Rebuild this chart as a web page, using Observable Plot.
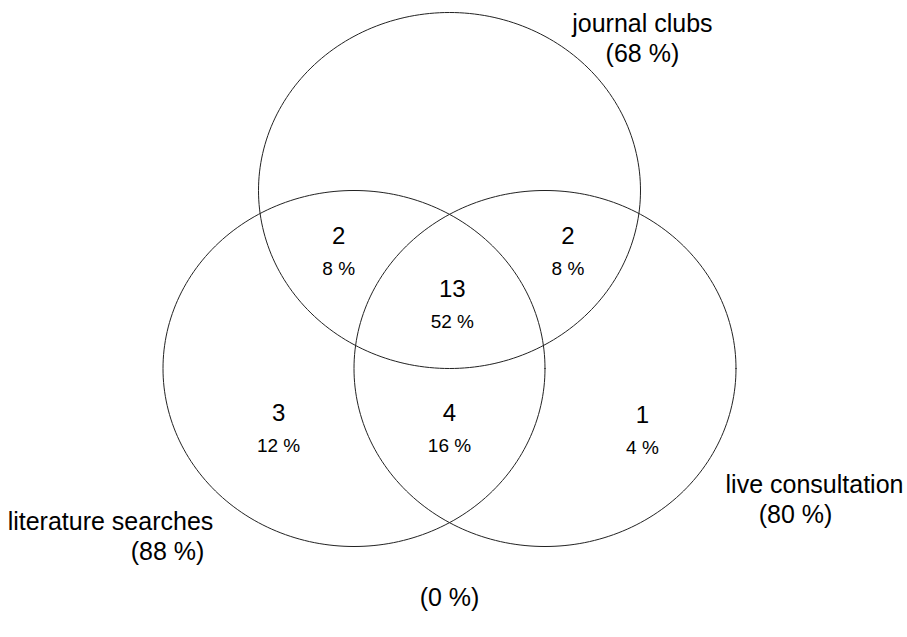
<!DOCTYPE html>
<html>
<head>
<meta charset="utf-8">
<script src="https://cdn.jsdelivr.net/npm/d3@7"></script>
<script src="https://cdn.jsdelivr.net/npm/@observablehq/plot@0.6"></script>
<style>
  html, body { margin: 0; padding: 0; background: #fff; }
  #chart svg { display: block; }
</style>
</head>
<body>
<div id="chart"></div>
<script>
// ---- data ----
const setNames = ["journal clubs", "live consultation", "literature searches"];
const setPercents = [68, 80, 88];
const regionNames = ["JC∩LS", "JC∩LC", "JC∩LC∩LS", "LS", "LS∩LC", "LC"];
const regionCounts = [2, 2, 13, 3, 4, 1];
const regionPercents = [8, 8, 52, 12, 16, 4];
const outsidePercent = 0;

// ---- layout (venn space, unit radius) ----
const circleX = [0, 0.5, -0.5];
const circleY = [0.5, -0.5, -0.5];
const regionX = [-0.58, 0.62, 0.015, -0.895, 0, 1.01];
const regionY = [0.242, 0.242, -0.056, -0.753, -0.753, -0.764];
const setLabelX = [1.01, 1.911, -1.775];
const setLabelY = [1.438, -1.157, -1.36];
const setPctX = [1.01, 1.812, -1.476];
const outsideX = 0, outsideY = -1.792;

const W = 907, H = 637;
const pxX = 191, pxY = 178, cx0 = 449, cy0 = 279;

// ellipse outlines from centre + unit radius
const outline = [];
setNames.forEach((name, i) => {
  const n = 240;
  for (let k = 0; k <= n; k++) {
    const t = (k / n) * 2 * Math.PI;
    outline.push({set: name, x: circleX[i] + Math.cos(t), y: circleY[i] + Math.sin(t)});
  }
});

const regions = regionNames.map((r, i) => ({
  region: r, x: regionX[i], y: regionY[i], count: regionCounts[i], pct: regionPercents[i]
}));
const labels = setNames.map((s, i) => ({
  name: s, x: setLabelX[i], y: setLabelY[i], px: setPctX[i], pct: setPercents[i]
}));

const font = "'Liberation Sans', Arial, Helvetica, sans-serif";

const chart = Plot.plot({
  width: W,
  height: H,
  margin: 0,
  x: {domain: [-cx0 / pxX, (W - cx0) / pxX], axis: null},
  y: {domain: [(cy0 - H) / pxY, cy0 / pxY], axis: null},
  style: {fontFamily: font, background: "#fff", color: "#000"},
  marks: [
    Plot.line(outline, {x: "x", y: "y", z: "set", stroke: "#222", strokeWidth: 1, curve: "linear-closed"}),
    Plot.text(regions, {x: "x", y: "y", text: d => String(d.count), fontSize: 24, fill: "#000"}),
    Plot.text(regions, {x: "x", y: "y", text: d => `${d.pct} %`, dy: 32, fontSize: 19, fill: "#000"}),
    Plot.text(labels, {x: "x", y: "y", text: "name", fontSize: 25, fill: "#000"}),
    Plot.text(labels, {x: "px", y: "y", text: d => `(${d.pct} %)`, dy: 30, fontSize: 25, fill: "#000"}),
    Plot.text([outsidePercent], {x: () => outsideX, y: () => outsideY, text: d => `(${d} %)`, fontSize: 25, fill: "#000"})
  ]
});
document.getElementById("chart").appendChild(chart);
</script>
</body>
</html>
